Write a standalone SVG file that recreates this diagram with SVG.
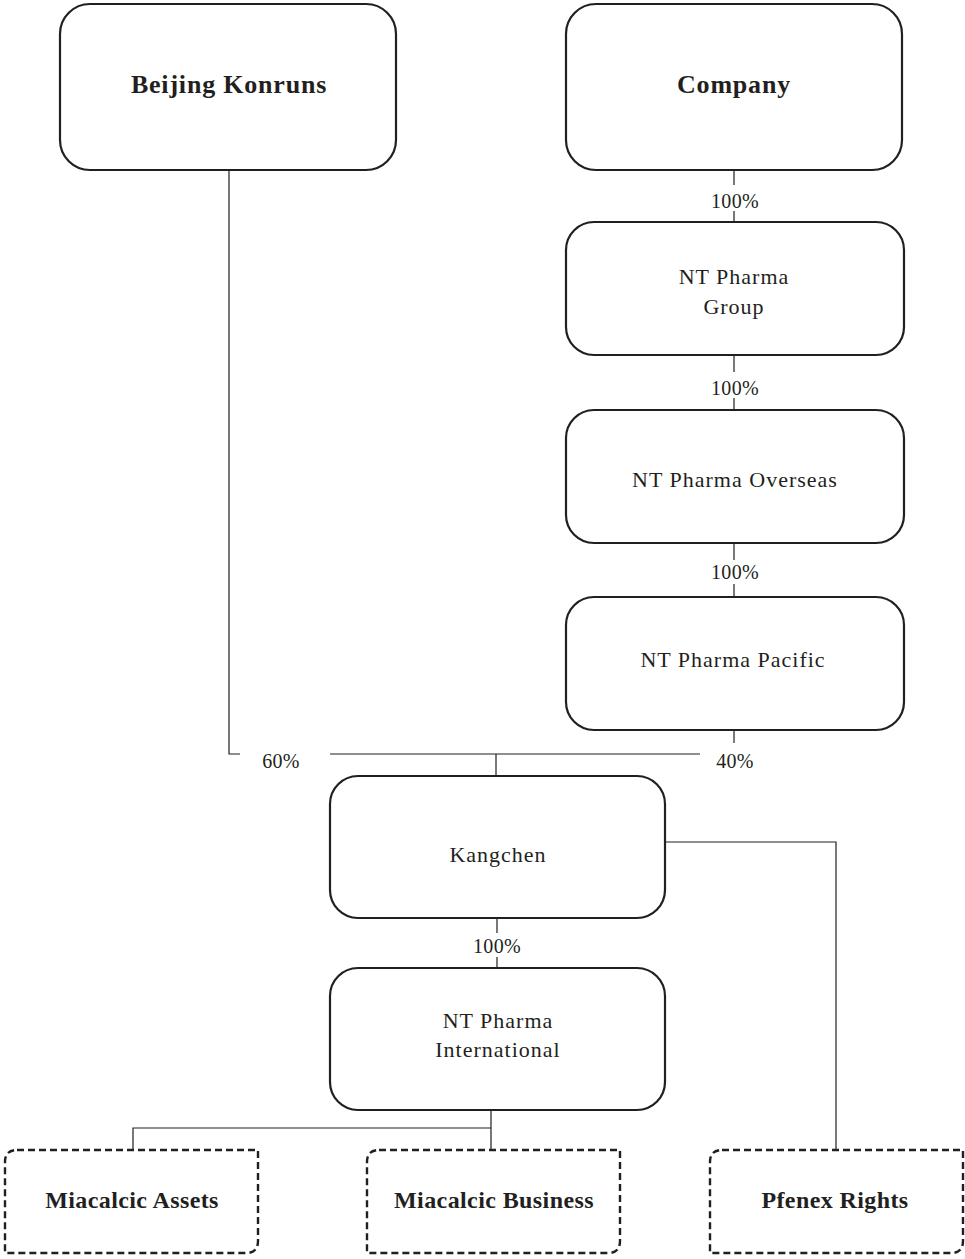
<svg xmlns="http://www.w3.org/2000/svg" width="965" height="1259" viewBox="0 0 965 1259">
<style>
.box{fill:#fff;stroke:#231f20;stroke-width:2.2}
.dbox{fill:#fff;stroke:#231f20;stroke-width:2.4;stroke-dasharray:7 4}
.ln{fill:none;stroke:#231f20;stroke-width:1.2}
.t{font-family:"Liberation Serif","Times New Roman",serif;font-size:22px;fill:#231f20;text-anchor:middle;letter-spacing:1px}
.b{font-family:"Liberation Serif","Times New Roman",serif;font-size:26px;font-weight:bold;fill:#231f20;text-anchor:middle;letter-spacing:0.8px}
.bd{font-family:"Liberation Serif","Times New Roman",serif;font-size:24px;font-weight:bold;fill:#231f20;text-anchor:middle;letter-spacing:0.4px}
.p{font-family:"Liberation Serif","Times New Roman",serif;font-size:20px;fill:#231f20;text-anchor:middle;letter-spacing:0.3px}
</style>
<rect width="965" height="1259" fill="#fff"/>
<g id="connectors">
<path class="ln" d="M734 170V185M734 211V222"/>
<path class="ln" d="M734 355V372M734 398V410"/>
<path class="ln" d="M734 543V560M734 584V597"/>
<path class="ln" d="M734 730V743"/>
<path class="ln" d="M229 170V754H240"/>
<path class="ln" d="M330 754H700M496 754V776"/>
<path class="ln" d="M665 842H836V1150"/>
<path class="ln" d="M497 918V933M497 957V968"/>
<path class="ln" d="M491 1110V1150M491 1128H133V1150"/>
<text class="p" x="735" y="208">100%</text>
<text class="p" x="735" y="395">100%</text>
<text class="p" x="735" y="579">100%</text>
<text class="p" x="735" y="768">40%</text>
<text class="p" x="281" y="768">60%</text>
<text class="p" x="497" y="953">100%</text>
</g>
<g id="beijing-konruns">
<rect class="box" x="60" y="4" width="336" height="166" rx="30"/>
<text class="b" x="229" y="93">Beijing Konruns</text>
</g>
<g id="company">
<rect class="box" x="566" y="4" width="336" height="166" rx="30"/>
<text class="b" x="734" y="93">Company</text>
</g>
<g id="nt-pharma-group">
<rect class="box" x="566" y="222" width="338" height="133" rx="28"/>
<text class="t" x="734" y="284">NT Pharma</text>
<text class="t" x="734" y="314">Group</text>
</g>
<g id="nt-pharma-overseas">
<rect class="box" x="566" y="410" width="338" height="133" rx="28"/>
<text class="t" x="735" y="487">NT Pharma Overseas</text>
</g>
<g id="nt-pharma-pacific">
<rect class="box" x="566" y="597" width="338" height="133" rx="28"/>
<text class="t" x="733" y="667">NT Pharma Pacific</text>
</g>
<g id="kangchen">
<rect class="box" x="330" y="776" width="335" height="142" rx="28"/>
<text class="t" x="498" y="862">Kangchen</text>
</g>
<g id="nt-pharma-international">
<rect class="box" x="330" y="968" width="335" height="142" rx="28"/>
<text class="t" x="498" y="1028">NT Pharma</text>
<text class="t" x="498" y="1057">International</text>
</g>
<g id="miacalcic-assets">
<path class="dbox" d="M17 1150H258V1241Q258 1253 246 1253H5V1162Q5 1150 17 1150Z"/>
<text class="bd" x="132" y="1208">Miacalcic Assets</text>
</g>
<g id="miacalcic-business">
<path class="dbox" d="M379 1150H620V1241Q620 1253 608 1253H367V1162Q367 1150 379 1150Z"/>
<text class="bd" x="494" y="1208">Miacalcic Business</text>
</g>
<g id="pfenex-rights">
<path class="dbox" d="M722 1150H963V1241Q963 1253 951 1253H710V1162Q710 1150 722 1150Z"/>
<text class="bd" x="835" y="1208">Pfenex Rights</text>
</g>
</svg>
